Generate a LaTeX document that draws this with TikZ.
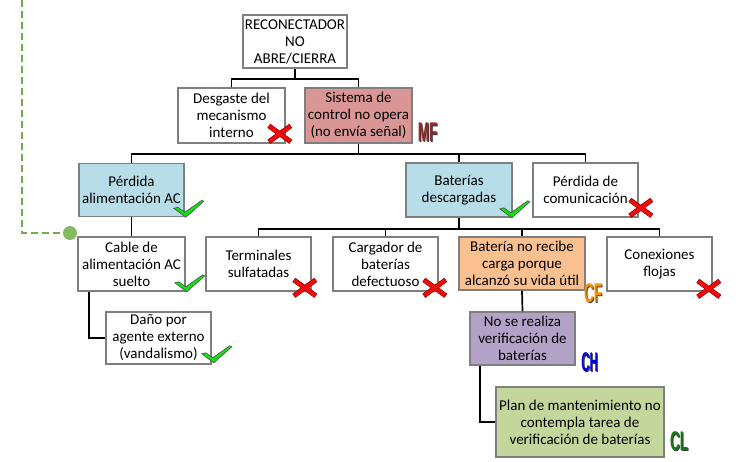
\documentclass[tikz,border=0pt]{standalone}
\usepackage{fontspec}
\setmainfont{Carlito}
\newfontfamily\tagfont{Liberation Sans}
\usetikzlibrary{calc}
\definecolor{boxgray}{RGB}{127,127,127}
\definecolor{redbox}{RGB}{217,150,148}
\definecolor{bluebox}{RGB}{183,221,232}
\definecolor{orangebox}{RGB}{250,192,144}
\definecolor{purplebox}{RGB}{179,162,199}
\definecolor{greenbox}{RGB}{195,214,155}
\definecolor{linkgreen}{RGB}{112,173,71}
\definecolor{okgreen}{RGB}{20,225,20}
\definecolor{nored}{RGB}{240,10,10}
\definecolor{mfred}{RGB}{150,40,40}
\definecolor{cforange}{RGB}{245,150,0}
\definecolor{chblue}{RGB}{0,0,210}
\definecolor{clgreen}{RGB}{20,120,20}
\tikzstyle{box}=[rectangle, draw=boxgray, line width=1.6pt, fill=white, align=center, inner sep=0pt, minimum height=54pt, font=\fontsize{15}{17}\selectfont]
\tikzstyle{link}=[line width=1.7pt, black]
\tikzstyle{tag}=[font=\tagfont\bfseries\fontsize{27}{27}\selectfont, inner sep=0pt]
\newcommand{\okmark}[1]
{
  \filldraw[shift={#1}, fill=okgreen, draw=black!70, line width=0.6pt] (-11,-9) -- (-7,-10) -- (0,-5) -- (17,-17) -- (19,-16) -- (1,0) -- cycle;
}
\newcommand{\nomark}[1]
{
  \begin{scope}[shift={#1}]
    \draw[nored!60!black, line width=5pt] (-11,-8) -- (11,8) (-11,8) -- (11,-8);
    \draw[nored, line width=3.6pt] (-10.5,-7.5) -- (10.5,7.5) (-10.5,7.5) -- (10.5,-7.5);
  \end{scope}
}
% tag letters with a dark shadow
\newcommand{\tagmark}[4]
{
  \node[tag, text=black!75] at ($#1+(1.2,1.2)$){\scalebox{#3}[1]{#4}};
  \node[tag, text=#2] at #1{\scalebox{#3}[1]{#4}};
}

\begin{document}
\begin{tikzpicture}[x=1pt, y=-1pt]
	\useasboundingbox (0,0) rectangle (743,461);

	\node[box, minimum width=104pt, minimum height=53pt](root) at (295,41.5){RECONECTADOR\\NO\\ABRE/CIERRA};
	\node[box, minimum width=107pt, minimum height=55pt](desg) at (231.5,115.5){Desgaste del\\mecanismo\\interno};
	\node[box, minimum width=107pt, minimum height=55pt, fill=redbox](sist) at (358.5,115.5){Sistema de\\control no opera\\(no envía señal)};

	\node[box, minimum width=105pt, minimum height=53pt, fill=bluebox](perd) at (131.5,190){Pérdida\\alimentación AC};
	\node[box, minimum width=106pt, fill=bluebox](bat) at (459,190){Baterías\\descargadas};
	\node[box, minimum width=105pt](com) at (585.5,190){Pérdida de\\comunicación};

	\node[box, minimum width=107pt](cable) at (131.5,264){Cable de\\alimentación AC\\suelto};
	\node[box, minimum width=105pt](term) at (258.5,264){Terminales\\sulfatadas};
	\node[box, minimum width=105pt](carg) at (385.5,264){Cargador de\\baterías\\defectuoso};
	\node[box, minimum width=126pt, minimum height=53pt, fill=orangebox](batn) at (522,263.5){Batería no recibe\\carga porque\\alcanzó su vida útil};
	\node[box, minimum width=105pt](conex) at (659.5,264){Conexiones\\flojas};

	\node[box, minimum width=105pt, minimum height=52pt](dano) at (158.5,338){Daño por\\agente externo\\(vandalismo)};
	\node[box, minimum width=105pt, minimum height=53pt, fill=purplebox](nover) at (522.5,338.5){No se realiza\\verificación de\\baterías};
	\node[box, minimum width=168pt, minimum height=70pt, fill=greenbox](plan) at (580,422){Plan de mantenimiento no\\contempla tarea de\\verificación de baterías};

	% connectors
	\draw[link] (root.south) -- ++(0,10) coordinate (j1);
	\draw[link] (desg.north) |- (j1) -| (sist.north);
	\draw[link] (sist.south) -- ++(0,10) coordinate (j2);
	\draw[link] (perd.north) |- (j2) -| (com.north);
	\draw[link] (bat.north) -- (bat.north |- j2);
	\draw[link] (perd.south) -- (cable.north);
	\draw[link] (bat.south) -- ++(0,11) coordinate (j3);
	\draw[link] (term.north) |- (j3) -| (conex.north);
	\draw[link] (carg.north) -- (carg.north |- j3);
	\draw[link] (batn.north) -- (batn.north |- j3);
	\draw[link] ([xshift=12pt]cable.south west) |- (dano.west);
	\draw[link] (batn.south) -- (nover.north);
	\draw[link] ([xshift=11pt]nover.south west) |- (plan.west);

	\coordinate (ltop) at (22,0);
	\node[circle, fill=linkgreen!85!white, minimum size=14pt, inner sep=0pt](dot) at (70,233){};
	\draw[linkgreen, line width=2.5pt, dash pattern=on 7pt off 4pt] (ltop) |- (dot);

	\okmark{(perd.south east)}
	\okmark{($(bat.south east)+(-2,0)$)}
	\okmark{(cable.south east)}
	\okmark{($(dano.south east)+(1,-2)$)}

	\nomark{($(desg.south east)+(-6,-10)$)}
	\nomark{($(com.south east)+(2,-10)$)}
	\nomark{($(term.south east)+(-7,-4)$)}
	\nomark{($(carg.south east)+(-4,-4)$)}
	\nomark{($(conex.south east)+(-4,-3)$)}

	\tagmark{(427.5,132)}{mfred}{0.5}{MF}
	\tagmark{(593,293)}{cforange}{0.5}{CF}
	\tagmark{(589.5,362)}{chblue}{0.42}{CH}
	\tagmark{(679,441)}{clgreen}{0.5}{CL}

\end{tikzpicture}
\end{document}
